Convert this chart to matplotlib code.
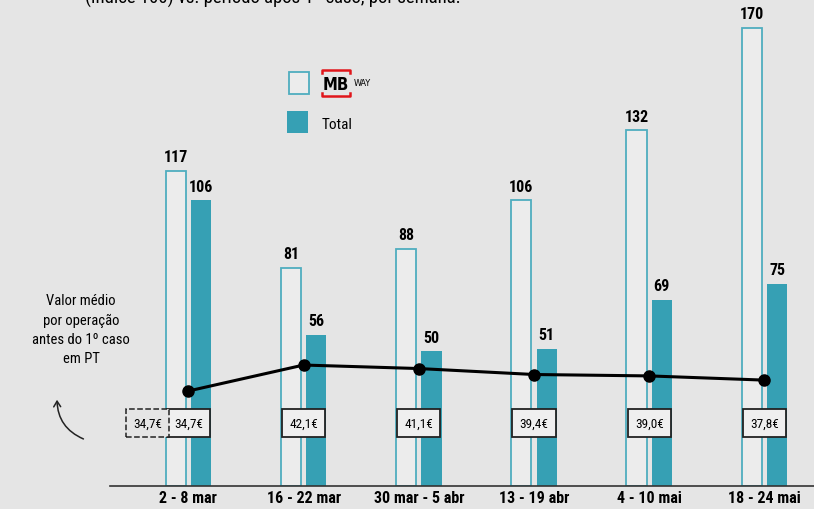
import numpy as np
import matplotlib.pyplot as plt
from matplotlib.patches import FancyArrowPatch, Rectangle
from matplotlib import font_manager

# pick the narrowest family that is installed
names = {f.name for f in font_manager.fontManager.ttflist}
narrow = "DejaVu Sans"
for cand in ["Roboto Condensed", "Liberation Sans Narrow", "Open Sans Condensed", "Noto Sans Condensed"]:
    if cand in names:
        narrow = cand
        break

# data
weeks = ["2 - 8 mar", "16 - 22 mar", "30 mar - 5 abr", "13 - 19 abr", "4 - 10 mai", "18 - 24 mai"]
mbway = [117, 81, 88, 106, 132, 170]
total = [106, 56, 50, 51, 69, 75]
avg_value = [34.7, 42.1, 41.1, 39.4, 39.0, 37.8]
avg_labels = ["34,7€", "42,1€", "41,1€", "39,4€", "39,0€", "37,8€"]
before_label = "34,7€"

bg = "#e5e5e5"
teal = "#36a0b4"
teal_edge = "#4fadbf"

plt.rcParams["font.family"] = [narrow, "DejaVu Sans"]
plt.rcParams["font.stretch"] = "condensed"

fig = plt.figure(figsize=(8.14, 5.10), dpi=100, facecolor=bg)
ax = fig.add_axes([110 / 814, 23 / 510, 704 / 814, 487 / 510])
ax.set_facecolor(bg)

x = np.arange(len(weeks))
w = 0.175
ax.bar(x - 0.11, mbway, w, facecolor="#ececec", edgecolor=teal_edge, linewidth=1.3)
ax.bar(x + 0.11, total, w, color=teal)

for xi, v in zip(x, mbway):
    ax.text(xi - 0.11, v + 2.5, str(v), ha="center", va="bottom", fontsize=11.5, fontweight="bold")
for xi, v in zip(x, total):
    ax.text(xi + 0.11, v + 2.5, str(v), ha="center", va="bottom", fontsize=11.5, fontweight="bold")

ax.set_xlim(-0.68, 5.43)
ax.set_ylim(0, 180.8)
ax.set_xticks(x)
ax.set_xticklabels(weeks, fontsize=11.5, fontweight="bold")
ax.tick_params(axis="x", length=0, pad=3)
ax.set_yticks([])
for s in ["top", "right", "left"]:
    ax.spines[s].set_visible(False)
ax.spines["bottom"].set_color("#333333")
ax.spines["bottom"].set_linewidth(1.2)

# average value per operation, own scale
ax2 = ax.twinx()
ax2.set_ylim(7.63, 146.4)
ax2.axis("off")
ax2.plot(x, avg_value, color="black", linewidth=2.2, marker="o", markersize=8)

box = dict(boxstyle="square,pad=0.55", facecolor="#efefef", edgecolor="#222222", linewidth=1.3)
for xi, lab in zip(x, avg_labels):
    ax.text(xi, 23.4, lab, ha="center", va="center", fontsize=9.5, bbox=box)
ax.text(x[0] - 0.355, 23.4, before_label, ha="center", va="center", fontsize=9.5,
        bbox=dict(boxstyle="square,pad=0.55", facecolor="#e5e5e5", edgecolor="#222222",
                  linewidth=1.1, linestyle="--"))

fig.text(81 / 814, 1 - 330 / 510, "Valor médio\npor operação\nantes do 1º caso\nem PT",
         ha="center", va="center", fontsize=10.5, linespacing=1.45)
arrow = FancyArrowPatch((86 / 814, 1 - 441 / 510), (57 / 814, 1 - 398 / 510),
                        transform=fig.transFigure, connectionstyle="arc3,rad=-0.35",
                        arrowstyle="->,head_width=2.5,head_length=4", color="#222222", linewidth=1.1)
fig.patches.append(arrow)

# legend
fig.patches.append(Rectangle((289 / 814, 1 - 95 / 510), 20 / 814, 22 / 510, transform=fig.transFigure,
                             facecolor="#ececec", edgecolor=teal_edge, linewidth=1.3))
fig.patches.append(Rectangle((287 / 814, 1 - 134 / 510), 21 / 814, 22 / 510, transform=fig.transFigure,
                             facecolor=teal, edgecolor="none"))
fig.text(323 / 814, 1 - 85 / 510, "MB", ha="left", va="center", fontsize=12, fontweight="bold",
         family="DejaVu Sans")
fig.text(354 / 814, 1 - 83 / 510, "WAY", ha="left", va="center", fontsize=6.5, family="DejaVu Sans")
red = "#e0161b"
fig.lines.append(plt.Line2D([322 / 814, 322 / 814, 350 / 814, 350 / 814],
                            [1 - 74 / 510, 1 - 71 / 510, 1 - 71 / 510, 1 - 74 / 510],
                            transform=fig.transFigure, color=red, linewidth=1.8))
fig.lines.append(plt.Line2D([322 / 814, 322 / 814, 350 / 814, 350 / 814],
                            [1 - 94 / 510, 1 - 97 / 510, 1 - 97 / 510, 1 - 94 / 510],
                            transform=fig.transFigure, color=red, linewidth=1.8))
fig.text(322 / 814, 1 - 125 / 510, "Total", ha="left", va="center", fontsize=11)

# cut-off subtitle at the very top
fig.text(85 / 814, 1 + 2 / 510, "(índice 100) vs. período após 1º caso, por semana.",
         ha="left", va="center", fontsize=13.5)

fig.savefig("out.png", dpi=100, facecolor=bg)
